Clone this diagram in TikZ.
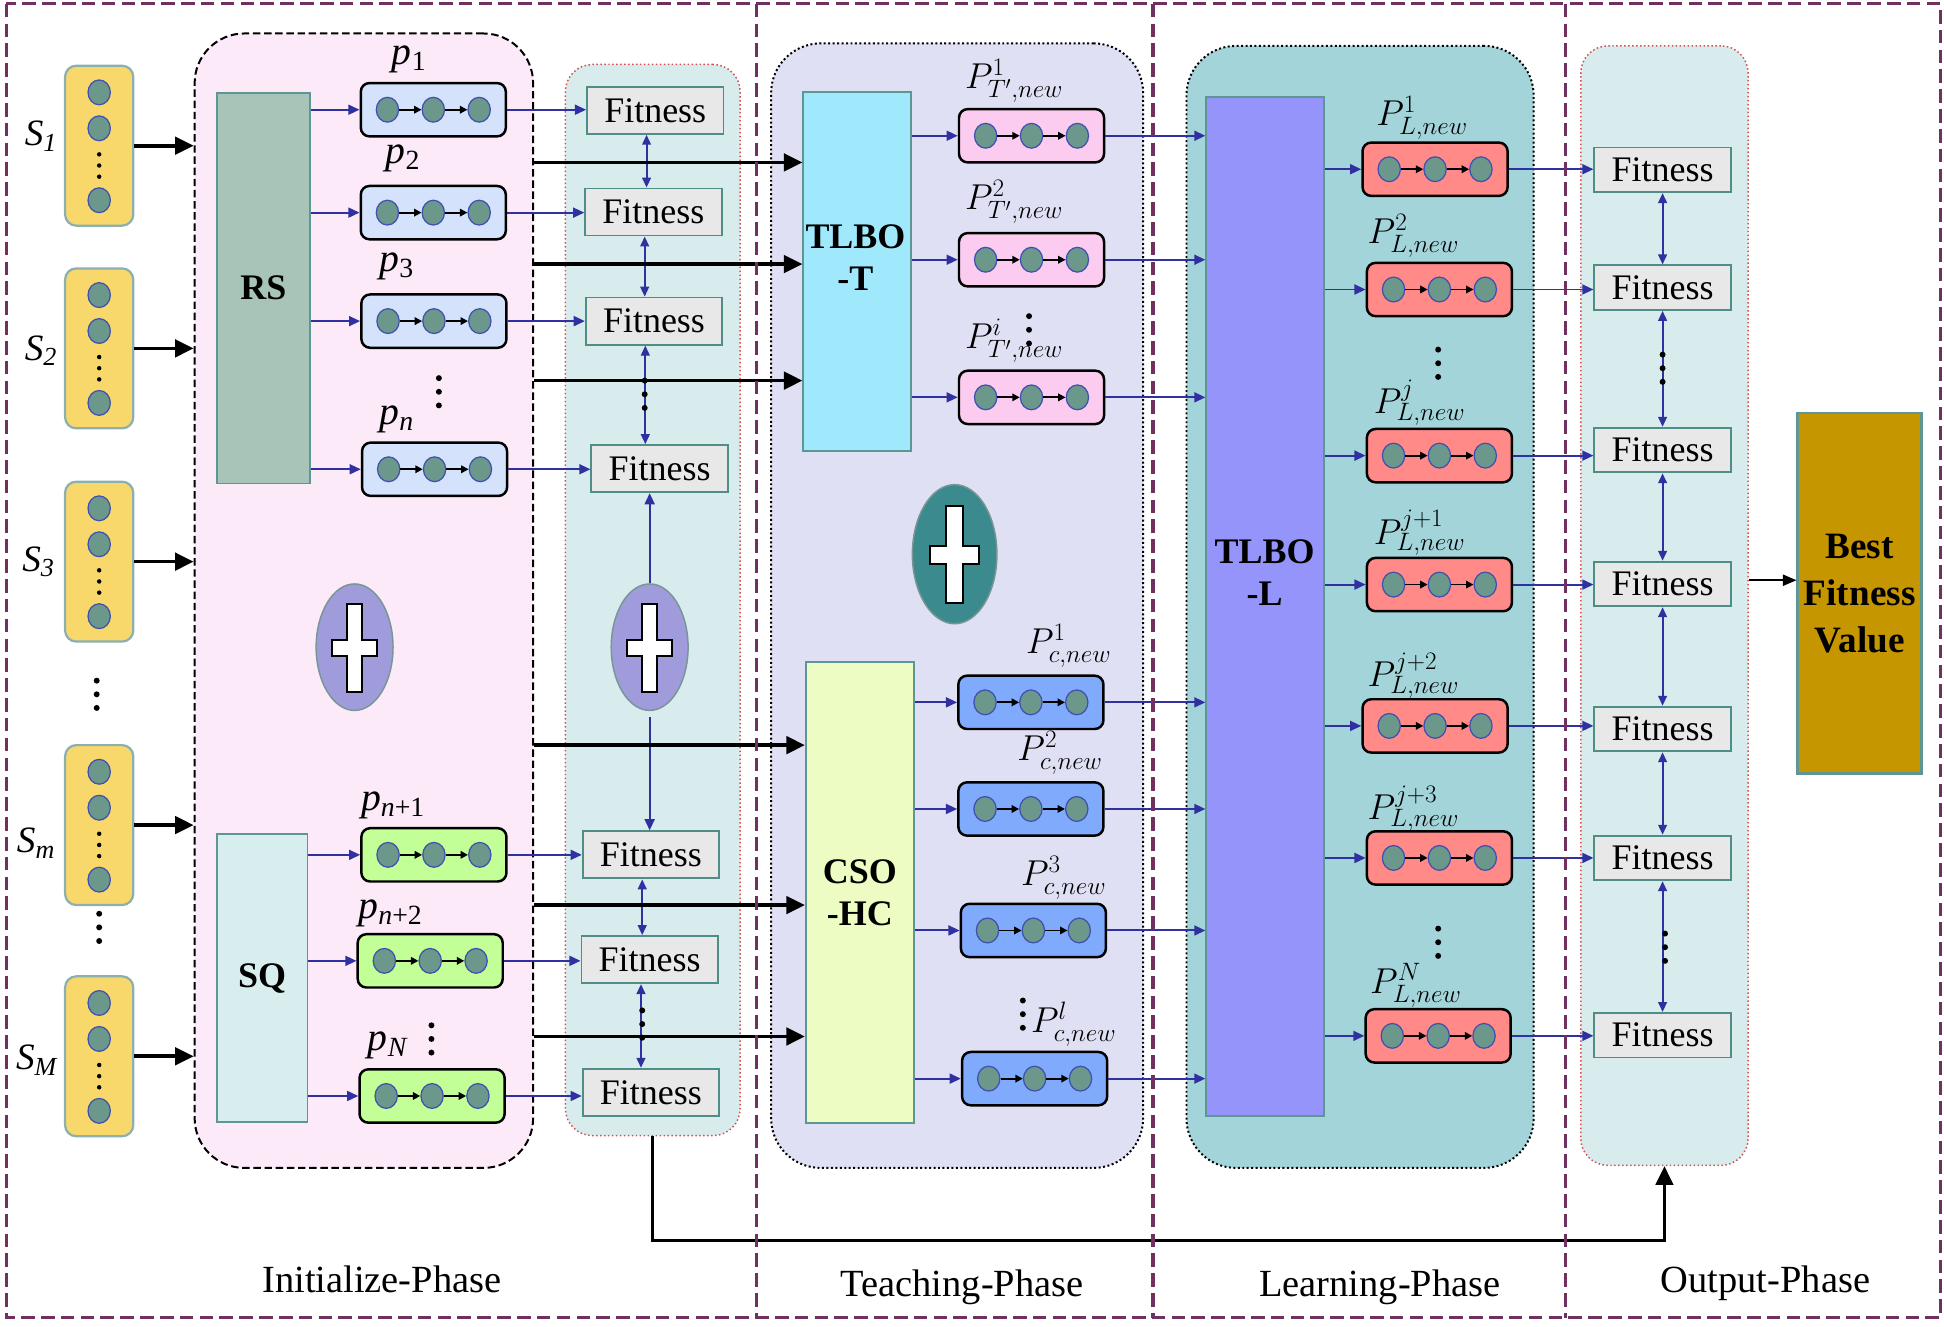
\documentclass[tikz,border=0pt]{standalone}
\usepackage{fix-cm}
\usepackage{fontspec}
\setmainfont{Liberation Serif}
\usepackage{tikz}
\usetikzlibrary{positioning,arrows.meta,shapes.geometric}

\definecolor{frameC}{RGB}{112,48,96}
\definecolor{initF}{RGB}{252,234,248}
\definecolor{fitcF}{RGB}{216,236,238}
\definecolor{redD}{RGB}{210,80,80}
\definecolor{teachF}{RGB}{224,224,244}
\definecolor{learnF}{RGB}{162,212,218}
\definecolor{syellow}{RGB}{248,216,106}
\definecolor{sborder}{RGB}{140,175,176}
\definecolor{beadF}{RGB}{108,152,140}
\definecolor{beadB}{RGB}{64,80,176}
\definecolor{arrB}{RGB}{48,48,160}
\definecolor{fitF}{RGB}{232,232,232}
\definecolor{fitB}{RGB}{78,142,134}
\definecolor{rsF}{RGB}{168,196,184}
\definecolor{sqF}{RGB}{216,238,238}
\definecolor{tlbotF}{RGB}{160,232,252}
\definecolor{csoF}{RGB}{236,252,194}
\definecolor{tlbolF}{RGB}{148,148,250}
\definecolor{algB}{RGB}{94,150,148}
\definecolor{pBlue}{RGB}{212,226,252}
\definecolor{pGreen}{RGB}{194,255,150}
\definecolor{pPink}{RGB}{252,204,240}
\definecolor{pMid}{RGB}{128,170,252}
\definecolor{pRed}{RGB}{255,138,136}
\definecolor{plusP}{RGB}{160,156,220}
\definecolor{plusT}{RGB}{58,138,142}
\definecolor{plusB}{RGB}{120,150,150}
\definecolor{bestF}{RGB}{198,150,0}

% three small dots in a column
\newcommand{\vdotsat}[2]{\foreach \d in {-11,0,11}{\fill (#1,#2+\d) circle (2.4);}}

\tikzset{
  bead/.style={ellipse, draw=beadB, fill=beadF, line width=1pt,
    minimum width=18pt, minimum height=20pt, inner sep=0pt},
  beadarrow/.style={draw=black, line width=1.5pt, -{Triangle[length=6pt,width=6pt]}},
  chainbox/.style={draw=black, line width=2pt, rounded corners=7pt,
    minimum width=117pt, minimum height=43pt, inner sep=0pt},
  sbox/.style={draw=sborder, fill=syellow, line width=1.8pt, rounded corners=9pt,
    minimum width=55pt, minimum height=129pt, inner sep=0pt},
  pics/chain/.style={code={
    \node[chainbox, fill=#1] (-box) {};
    \node[bead] (-a) at (-37,0) {};
    \node[bead] (-b) at (0,0) {};
    \node[bead] (-c) at (37,0) {};
    \draw[beadarrow] (-a) -- (-b);
    \draw[beadarrow] (-b) -- (-c);
  }},
  pics/stack/.style={code={
    \node[sbox] (-box) {};
    \node[bead] (-a) at (0,-43) {};
    \node[bead] (-b) at (0,-14) {};
    \node[bead] (-c) at (0,44) {};
    \foreach \d in {7,16,25}{\fill (0,\d) circle (1.8);}
  }},
  pics/plus/.style 2 args={code={
    \node[ellipse, draw=plusB, line width=1.2pt, fill=#1,
      minimum width=#2*62pt, minimum height=#2*102pt] (-ell) {};
    \draw[fill=white, line width=1.6pt, scale=#2]
      (-6,-35) -- (6,-35) -- (6,-6) -- (18,-6) -- (18,7) -- (6,7)
      -- (6,36) -- (-6,36) -- (-6,7) -- (-18,7) -- (-18,-6) -- (-6,-6) -- cycle;
  }},
}

\begin{document}
\begin{tikzpicture}[x=1pt, y=-1pt,
  phaseframe/.style={draw=frameC, line width=2.5pt, dash pattern=on 11pt off 5pt},
  phase/.style={font=\fontsize{31}{35}\selectfont},
  groupbox/.style={rounded corners=#1, inner sep=0pt},
  algbox/.style={draw=algB, line width=1.5pt, inner sep=0pt, align=center,
    font=\bfseries\fontsize{29}{34}\selectfont},
  algtext/.style={align=center, font=\bfseries\fontsize{29}{34}\selectfont},
  fitbox/.style={draw=fitB, fill=fitF, line width=1.5pt, inner sep=0pt,
    minimum width=110pt, minimum height=38pt, font=\rmfamily\fontsize{29}{33}\selectfont},
  slabel/.style={font=\fontsize{30}{34}\selectfont},
  plabel/.style={font=\fontsize{32}{36}\selectfont},
  newlabel/.style={font=\fontsize{29}{33}\selectfont},
  barrow/.style={draw=arrB, line width=1.6pt, -{Triangle[length=9pt,width=8pt]}},
  darrow/.style={draw=arrB, line width=1.6pt,
    {Triangle[length=8pt,width=7pt]}-{Triangle[length=8pt,width=7pt]}},
  karrow/.style={draw=black, line width=3pt, -{Triangle[length=15pt,width=14pt]}},
]
\useasboundingbox (0,0) rectangle (1568,1070);

% group boxes
\node[groupbox=40pt, draw=black, dash pattern=on 6pt off 3pt, line width=1.6pt, fill=initF,
  minimum width=273pt, minimum height=915pt] (init) at (293.5,484.5) {};
\node[groupbox=22pt, draw=redD, dotted, line width=1.2pt, fill=fitcF,
  minimum width=141pt, minimum height=864pt] (fitA) at (526.5,484) {};
\node[groupbox=40pt, draw=black, dotted, line width=1.6pt, fill=teachF,
  minimum width=300pt, minimum height=907pt] (teach) at (772,488.5) {};
\node[groupbox=40pt, draw=black, dotted, line width=1.6pt, fill=learnF,
  minimum width=280pt, minimum height=905pt] (learn) at (1097,489.5) {};
\node[groupbox=22pt, draw=redD, dotted, line width=1.2pt, fill=fitcF,
  minimum width=135pt, minimum height=903pt] (outc) at (1342.5,488.5) {};

% phase names
\node[phase] (lini) at (308,1032) {Initialize-Phase};
\node[phase] (ltea) at (776,1038) {Teaching-Phase};
\node[phase] (llea) at (1113,1038) {Learning-Phase};
\node[phase] (lout) at (1424,1035) {Output-Phase};

% solutions S
\foreach \n/\y in {S1/117.5, S2/281, S3/453, Sm/665.5, SM/852}
  \pic (\n) at (80,\y) {stack};
\node[slabel] (S1-lab) at (33,110) {\textit{S}\textsubscript{\textit{1}}};
\node[slabel] (S2-lab) at (33,283) {\textit{S}\textsubscript{\textit{2}}};
\node[slabel] (S3-lab) at (31,453) {\textit{S}\textsubscript{\textit{3}}};
\node[slabel] (Sm-lab) at (29,680) {\textit{S}\textsubscript{\textit{m}}};
\node[slabel] (SM-lab) at (30,855) {\textit{S}\textsubscript{\textit{M}}};
\vdotsat{78}{560}
\vdotsat{80}{748}
\foreach \n in {S1,S2,S3,Sm,SM}
  \draw[karrow] (\n-box.east) -- (\n-box.east -| init.west);

% algorithm blocks
\node[algbox, fill=rsF, minimum width=75pt, minimum height=315pt] (RS) at (212.5,232.5) {RS};
\node[algbox, fill=sqF, minimum width=73pt, minimum height=232pt] (SQ) at (211.5,789) {SQ};
\node[algbox, fill=tlbotF, minimum width=87pt, minimum height=290pt] (tlbot) at (691.5,219) {};
\node[algtext] (tlbot-t) at (690,208) {TLBO\\-T};
\node[algbox, fill=csoF, minimum width=87pt, minimum height=372pt] (cso) at (693.5,720) {CSO\\-HC};
\node[algbox, fill=tlbolF, minimum width=95pt, minimum height=822pt] (tlbol) at (1020.5,489) {};
\node[algtext] (tlbol-t) at (1020,462) {TLBO\\-L};

% initial population
\foreach \n/\x/\y in {p1/349.5/88.5, p2/349.5/171.5, p3/350/259, pn/350.5/378.5}
  \pic (\n) at (\x,\y) {chain=pBlue};
\foreach \n/\x/\y in {pn1/350/689.5, pn2/347/775, pN/348.5/884}
  \pic (\n) at (\x,\y) {chain=pGreen};
\node[plabel] (p1-lab) at (330,48) {\textit{p}\textsubscript{1}};
\node[plabel] (p2-lab) at (325,128) {\textit{p}\textsubscript{2}};
\node[plabel] (p3-lab) at (320,215) {\textit{p}\textsubscript{3}};
\node[plabel] (pn-lab) at (320,338) {\textit{p}\textsubscript{\textit{n}}};
\node[plabel] (pn1-lab) at (317,650) {\textit{p}\textsubscript{\textit{n}+1}};
\node[plabel] (pn2-lab) at (315,737) {\textit{p}\textsubscript{\textit{n}+2}};
\node[plabel] (pN-lab) at (313,843) {\textit{p}\textsubscript{\textit{N}}};
\vdotsat{354}{316}
\vdotsat{348}{838}
\foreach \n in {p1,p2,p3,pn}
  \draw[barrow] (RS.east |- \n-box) -- (\n-box.west);
\foreach \n in {pn1,pn2,pN}
  \draw[barrow] (SQ.east |- \n-box) -- (\n-box.west);

% fitness of the initial population
\foreach \n/\x/\y in {fa1/528.5/89, fa2/527/171, fa3/527.5/259, fa4/532/378,
                      fa5/525/689.5, fa6/524/774, fa7/525/881}
  \node[fitbox] (\n) at (\x,\y) {Fitness};
\foreach \a/\b in {p1/fa1, p2/fa2, p3/fa3, pn/fa4, pn1/fa5, pn2/fa6, pN/fa7}
  \draw[barrow] (\a-box.east) -- (\a-box.east -| \b.west);
\foreach \a/\b in {fa1/fa2, fa2/fa3, fa3/fa4, fa5/fa6, fa6/fa7}
  \draw[darrow] ([xshift=-7pt]\a.south) -- ([xshift=-7pt]\a.south |- \b.north);
\vdotsat{520}{318}
\vdotsat{518}{826}

\pic (plusA) at (286,522) {plus={plusP}{1}};
\pic (plusB) at (524,522) {plus={plusP}{1}};
\draw[barrow] (plusB-ell.north) -- (plusB-ell.north |- fa4.south);
\draw[barrow, shorten <=5pt] (plusB-ell.south) -- (plusB-ell.south |- fa5.north);

% to the teaching phase
\foreach \y in {131,213,307}
  \draw[karrow] (init.east |- 0,\y) -- (tlbot.west |- 0,\y);
\foreach \y in {601,730,836}
  \draw[karrow] (init.east |- 0,\y) -- (cso.west |- 0,\y);

% teaching phase
\foreach \n/\x/\y in {T1/832/109.5, T2/832/209.5, T3/832/320.5}
  \pic (\n) at (\x,\y) {chain=pPink};
\foreach \n/\x/\y in {C1/831.5/566.5, C2/831.5/652.5, C3/833.5/750.5, C4/834.5/870}
  \pic (\n) at (\x,\y) {chain=pMid};
\node[newlabel] (T1-lab) at (818,65) {$P^{1}_{T',new}$};
\node[newlabel] (T2-lab) at (818,163) {$P^{2}_{T',new}$};
\node[newlabel] (T3-lab) at (818,275) {$P^{i}_{T',new}$};
\vdotsat{830}{266}
\node[newlabel] (C1-lab) at (862,521) {$P^{1}_{c,new}$};
\node[newlabel] (C2-lab) at (855,607) {$P^{2}_{c,new}$};
\node[newlabel] (C3-lab) at (858,708) {$P^{3}_{c,new}$};
\node[newlabel] (C4-lab) at (866,826) {$P^{l}_{c,new}$};
\vdotsat{825}{818}
\foreach \n in {T1,T2,T3}
  \draw[barrow] (tlbot.east |- \n-box) -- (\n-box.west);
\foreach \n in {C1,C2,C3,C4}
  \draw[barrow] (cso.east |- \n-box) -- (\n-box.west);
\pic (plusC) at (770,447) {plus={plusT}{1.1}};

% learning phase
\foreach \n in {T1,T2,T3,C1,C2,C3,C4}
  \draw[barrow] (\n-box.east) -- (\n-box.east -| tlbol.west);
\foreach \n/\x/\y in {L1/1157.5/136.5, L2/1161/233.5, L3/1161/367.5, L4/1161/471.5,
                      L5/1157.5/585.5, L6/1161/692, L7/1160/835.5}
  \pic (\n) at (\x,\y) {chain=pRed};
\node[newlabel] (L1-lab) at (1147,95) {$P^{1}_{L,new}$};
\node[newlabel] (L2-lab) at (1140,190) {$P^{2}_{L,new}$};
\node[newlabel] (L3-lab) at (1145,325) {$P^{j}_{L,new}$};
\node[newlabel] (L4-lab) at (1145,430) {$P^{j+1}_{L,new}$};
\node[newlabel] (L5-lab) at (1140,545) {$P^{j+2}_{L,new}$};
\node[newlabel] (L6-lab) at (1140,652) {$P^{j+3}_{L,new}$};
\node[newlabel] (L7-lab) at (1142,795) {$P^{N}_{L,new}$};
\vdotsat{1160}{293}
\vdotsat{1160}{760}
\foreach \n in {L1,L2,L3,L4,L5,L6,L7}
  \draw[barrow] (tlbol.east |- \n-box) -- (\n-box.west);

% output phase
\foreach \n/\y in {fb1/137, fb2/232, fb3/363, fb4/471, fb5/588, fb6/692, fb7/835}
  \node[fitbox, minimum height=36pt] (\n) at (1341,\y) {Fitness};
\foreach \a/\b in {L1/fb1, L2/fb2, L3/fb3, L4/fb4, L5/fb5, L6/fb6, L7/fb7}
  \draw[barrow] (\a-box.east) -- (\a-box.east -| \b.west);
\foreach \a/\b in {fb1/fb2, fb2/fb3, fb3/fb4, fb4/fb5, fb5/fb6, fb6/fb7}
  \draw[darrow] (\a.south) -- (\a.south |- \b.north);
\vdotsat{1341}{297}
\vdotsat{1343}{764}
\node[draw=algB, line width=2pt, fill=bestF, minimum width=100pt, minimum height=291pt,
  align=center, font=\bfseries\fontsize{30}{38}\selectfont] (bfv) at (1500,478.5)
  {Best\\Fitness\\Value};
\draw[draw=black, line width=1.5pt, -{Triangle[length=11pt,width=9pt]}]
  (outc.east |- 0,468) -- (bfv.west |- 0,468);
\draw[karrow, line width=2.5pt] (fitA.south) -- ++(0,84) -| (outc.south);

% phase frame
\draw[phaseframe] (5,3) rectangle (1565,1063);
\foreach \x in {610,930,1263}
  \draw[phaseframe] (\x,3) -- (\x,1063);
\end{tikzpicture}
\end{document}
